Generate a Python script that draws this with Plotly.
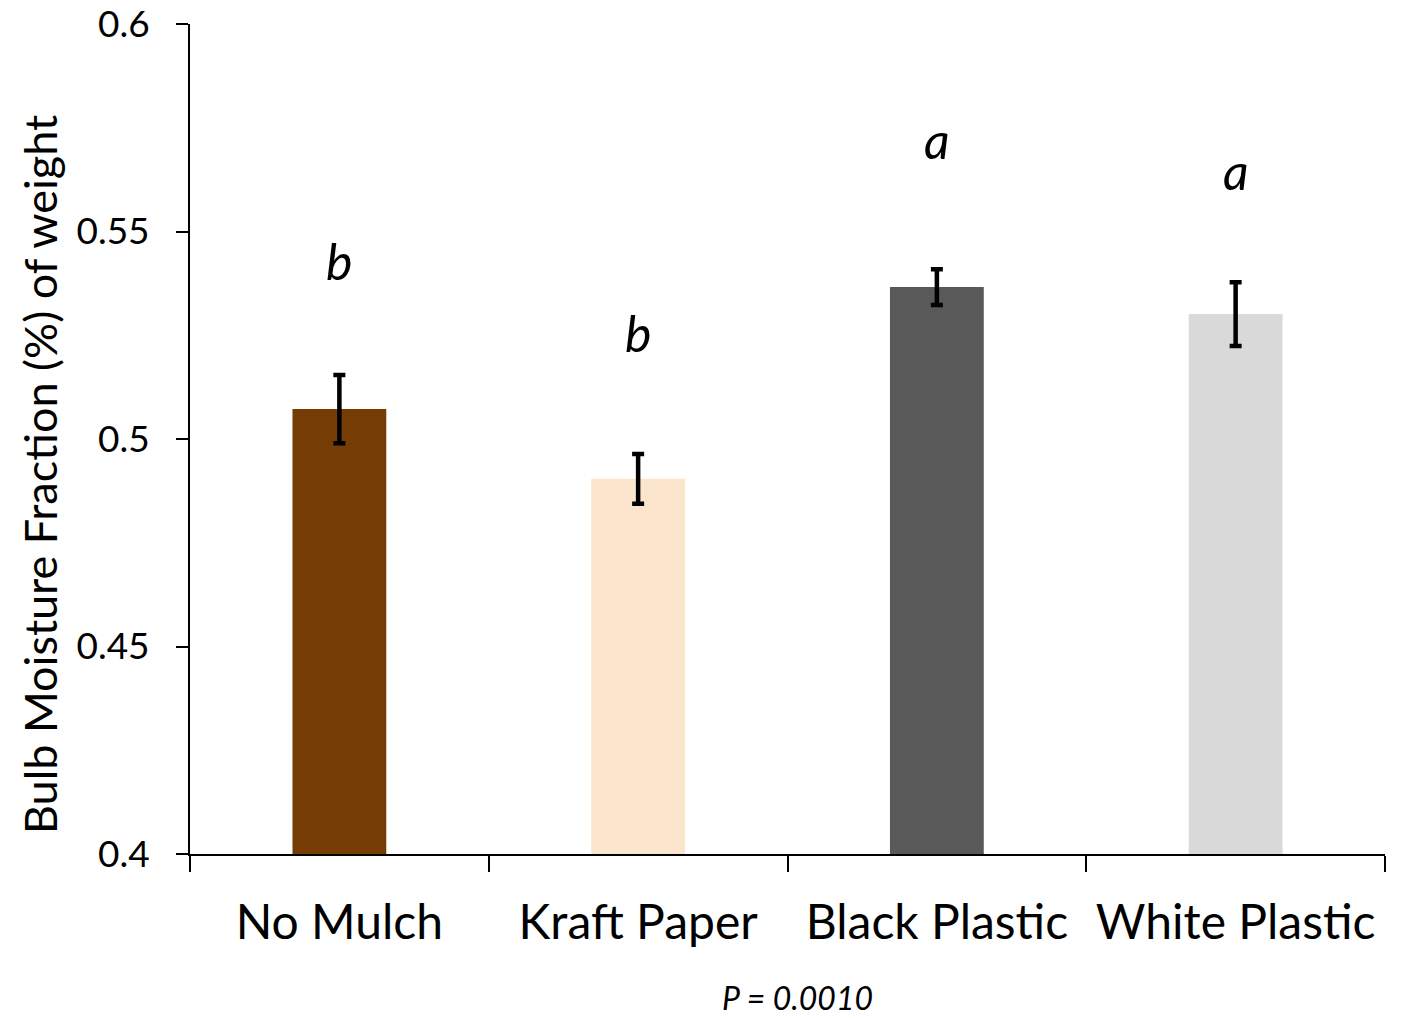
import plotly.graph_objects as go

categories = ["No Mulch", "Kraft Paper", "Black Plastic", "White Plastic"]
values = [0.5072, 0.4904, 0.5366, 0.5301]
errors = [0.0082, 0.0060, 0.0043, 0.0077]
colors = ["#763C05", "#FBE5CD", "#595959", "#D9D9D9"]
letters = ["b", "b", "a", "a"]
letter_y = [0.5376, 0.5202, 0.5667, 0.5593]
y_ticks = [0.4, 0.45, 0.5, 0.55, 0.6]
y_tick_text = ["0.4", "0.45", "0.5", "0.55", "0.6"]
y_title = "Bulb Moisture Fraction (%) of weight"
p_text = "P = 0.0010"

FONT = "Lato"

fig = go.Figure()
fig.add_trace(go.Bar(
    x=categories, y=values,
    marker=dict(color=colors, line=dict(width=0)),
    error_y=dict(type="data", array=errors, color="black", thickness=4.5, width=6, visible=True),
    showlegend=False,
))

for c, t, yv in zip(categories, letters, letter_y):
    fig.add_annotation(x=c, y=yv, text=f"<i>{t}</i>", showarrow=False,
                       yanchor="bottom", yshift=-10,
                       font=dict(family=FONT, size=50, color="black"))

fig.add_annotation(x=0.508, xref="paper", y=-0.1976, yref="paper", text=f"<i>{p_text}</i>",
                   showarrow=False, yanchor="bottom", borderpad=0,
                   font=dict(family=FONT, size=32, color="black"))

fig.add_annotation(x=-0.1255, xref="paper", y=0.4566, yref="paper", text=y_title,
                   textangle=-90, showarrow=False, xanchor="center", yanchor="middle",
                   font=dict(family=FONT, size=45, color="black"))

fig.update_layout(
    width=1401, height=1018,
    margin=dict(l=190, r=16, t=24, b=164),
    paper_bgcolor="white", plot_bgcolor="white",
    bargap=0.686,
    font=dict(family=FONT, color="black"),
)
fig.update_xaxes(
    showline=True, linecolor="black", linewidth=2,
    ticks="outside", ticklen=16, tickwidth=2, tickcolor="black",
    tickson="boundaries", showgrid=False, automargin=False,
    tickfont=dict(family=FONT, size=48, color="black"),
    ticklabelstandoff=25,
)
fig.update_yaxes(
    range=[0.4, 0.6], tickvals=y_ticks, ticktext=y_tick_text,
    showline=True, linecolor="black", linewidth=2,
    ticks="outside", ticklen=12, tickwidth=2, tickcolor="black",
    showgrid=False, zeroline=False, automargin=False,
    tickfont=dict(family=FONT, size=37, color="black"),
    ticklabelstandoff=19, ticklabeloverflow="allow",
)

fig.write_html(
    "out.html",
    config={"displayModeBar": False},
    post_script="document.body.style.margin='0';document.documentElement.style.overflow='hidden';",
)
